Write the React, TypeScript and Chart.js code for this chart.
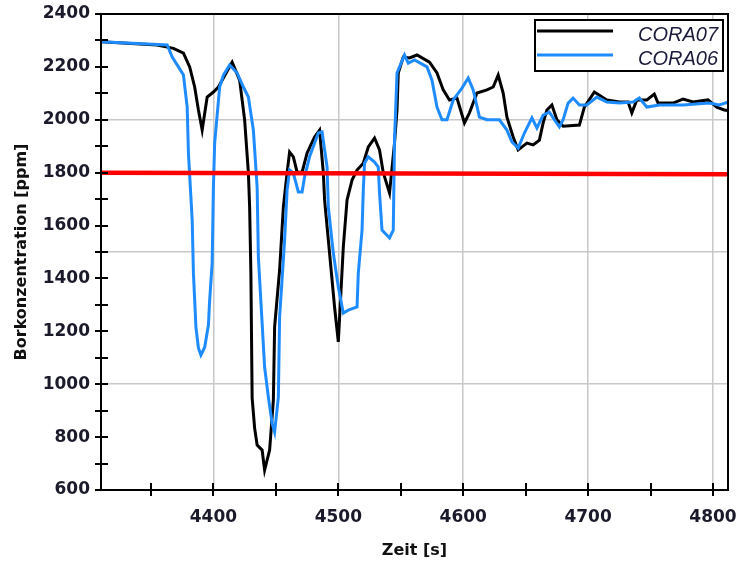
import React, { useEffect, useRef } from 'react';
import { Chart, registerables } from 'chart.js';

Chart.register(...registerables);

const cora07Time = [4310, 4355, 4368, 4376, 4381, 4385, 4388, 4391, 4395, 4400, 4404, 4415, 4421, 4425, 4428, 4429, 4430, 4431, 4433, 4435, 4439, 4441, 4445, 4448, 4449, 4453, 4456, 4459, 4461, 4464, 4467, 4471, 4475, 4481, 4485, 4488, 4489, 4493, 4497, 4500, 4504, 4507, 4511, 4515, 4520, 4524, 4529, 4533, 4536, 4541, 4545, 4547, 4548, 4552, 4557, 4563, 4573, 4579, 4584, 4589, 4595, 4601, 4605, 4611, 4619, 4624, 4628, 4632, 4635, 4640, 4644, 4651, 4656, 4661, 4664, 4667, 4671, 4675, 4680, 4693, 4697, 4705, 4715, 4725, 4732, 4735, 4739, 4747, 4753, 4756, 4768, 4776, 4784, 4796, 4803, 4809, 4812];
const cora07Boron = [2295, 2283, 2270, 2252, 2200, 2124, 2037, 1961, 2086, 2105, 2124, 2218, 2150, 2000, 1800, 1670, 1420, 948, 834, 770, 751, 675, 751, 940, 1216, 1432, 1670, 1800, 1878, 1860, 1802, 1802, 1874, 1935, 1961, 1800, 1697, 1496, 1292, 1160, 1519, 1697, 1772, 1810, 1836, 1897, 1931, 1886, 1800, 1723, 1912, 2037, 2177, 2237, 2234, 2245, 2218, 2177, 2113, 2075, 2082, 1988, 2026, 2101, 2113, 2124, 2169, 2101, 2010, 1935, 1886, 1912, 1905, 1923, 1988, 2037, 2056, 2000, 1976, 1980, 2048, 2105, 2075, 2067, 2067, 2026, 2075, 2075, 2097, 2063, 2063, 2078, 2067, 2075, 2048, 2037, 2035];

const cora06Time = [4310, 4363, 4367, 4372, 4376, 4379, 4380, 4383, 4384, 4386, 4388, 4390, 4393, 4396, 4397, 4399, 4400, 4401, 4405, 4408, 4413, 4419, 4424, 4428, 4432, 4435, 4436, 4439, 4441, 4444, 4447, 4449, 4452, 4453, 4456, 4457, 4459, 4461, 4464, 4468, 4471, 4473, 4477, 4484, 4487, 4491, 4492, 4496, 4500, 4504, 4508, 4515, 4516, 4519, 4520, 4521, 4524, 4529, 4532, 4533, 4535, 4541, 4544, 4545, 4547, 4549, 4553, 4556, 4561, 4571, 4575, 4579, 4583, 4587, 4592, 4599, 4604, 4608, 4613, 4619, 4629, 4635, 4639, 4644, 4649, 4655, 4659, 4664, 4669, 4673, 4677, 4680, 4684, 4688, 4693, 4699, 4707, 4715, 4725, 4736, 4741, 4747, 4757, 4776, 4797, 4805, 4812];
const cora06Boron = [2295, 2283, 2237, 2200, 2169, 2048, 1874, 1621, 1420, 1216, 1137, 1110, 1140, 1224, 1318, 1458, 1746, 1912, 2124, 2169, 2207, 2177, 2124, 2086, 1961, 1746, 1480, 1231, 1065, 951, 853, 819, 951, 1254, 1470, 1545, 1734, 1810, 1798, 1727, 1727, 1784, 1860, 1950, 1954, 1821, 1670, 1496, 1368, 1269, 1280, 1292, 1420, 1583, 1734, 1836, 1860, 1840, 1821, 1723, 1583, 1553, 1583, 1923, 2177, 2200, 2245, 2214, 2226, 2200, 2150, 2048, 2000, 2000, 2075, 2120, 2158, 2113, 2010, 2000, 2000, 1961, 1916, 1893, 1950, 2007, 1969, 2018, 2029, 2000, 1973, 2000, 2063, 2082, 2056, 2056, 2086, 2067, 2063, 2067, 2082, 2048, 2056, 2056, 2063, 2056, 2067];

const limitTime = [4310, 4812];
const limitBoron = [1800, 1794];

const seriesNames = ['CORA07', 'CORA06'];
const seriesColors = ['#000000', '#1e8cff'];

const xTickValues = [4350, 4400, 4450, 4500, 4550, 4600, 4650, 4700, 4750, 4800];
const xLabelValues = [4400, 4500, 4600, 4700, 4800];
const yTickValues = [600, 700, 800, 900, 1000, 1100, 1200, 1300, 1400, 1500, 1600, 1700, 1800, 1900, 2000, 2100, 2200, 2300, 2400];
const yLabelValues = [600, 800, 1000, 1200, 1400, 1600, 1800, 2000, 2200, 2400];
const yGridValues = [1000, 1500, 2000];

const xMin = 4310;
const xMax = 4812;
const yMin = 600;
const yMax = 2400;

const toPoints = (xs: number[], ys: number[]) => xs.map((x, i) => ({ x, y: ys[i] }));

const framePlugin = {
  id: 'frame',
  afterDatasetsDraw(chart: any) {
    const { ctx, chartArea, scales } = chart;
    const { left, right, top, bottom } = chartArea;
    ctx.save();
    ctx.strokeStyle = '#000';
    ctx.lineWidth = 2;
    ctx.beginPath();
    scales.y.ticks.forEach((t: any) => {
      const py = Math.round(scales.y.getPixelForValue(t.value));
      ctx.moveTo(left - 6, py);
      ctx.lineTo(left + 7, py);
    });
    scales.x.ticks.forEach((t: any) => {
      const px = Math.round(scales.x.getPixelForValue(t.value));
      ctx.moveTo(px, bottom - 7);
      ctx.lineTo(px, bottom + 6);
    });
    ctx.stroke();
    ctx.strokeRect(left, top, right - left, bottom - top);
    ctx.restore();
  },
  afterDraw(chart: any) {
    const { ctx, chartArea } = chart;
    const { right, top } = chartArea;
    const bx = right - 193;
    const by = top + 6;
    const bw = 188;
    const bh = 51;
    ctx.save();
    ctx.fillStyle = '#fff';
    ctx.fillRect(bx, by, bw, bh);
    ctx.strokeStyle = '#000';
    ctx.lineWidth = 2;
    ctx.strokeRect(bx, by, bw, bh);
    ctx.font = 'italic 20px "Liberation Sans", Arial, sans-serif';
    ctx.textAlign = 'right';
    ctx.textBaseline = 'alphabetic';
    seriesNames.forEach((name, i) => {
      const ly = by + 11 + i * 24;
      ctx.strokeStyle = seriesColors[i];
      ctx.lineWidth = 3;
      ctx.beginPath();
      ctx.moveTo(bx + 2, ly);
      ctx.lineTo(bx + 78, ly);
      ctx.stroke();
      ctx.fillStyle = '#1a1a3a';
      ctx.fillText(name, bx + bw - 5, ly + 10);
    });
    ctx.restore();
  },
};

export default function App() {
  const canvasRef = useRef<HTMLCanvasElement | null>(null);

  useEffect(() => {
    document.body.style.margin = '0';
    const canvas = canvasRef.current;
    if (!canvas) return;
    const tickFont = { family: '"DejaVu Sans", Verdana, sans-serif', size: 17, weight: 'bold' as const };
    const titleFont = { family: '"DejaVu Sans", Verdana, sans-serif', size: 16, weight: 'bold' as const };
    const chart = new Chart(canvas, {
      type: 'line',
      data: {
        datasets: [
          {
            label: 'Limit',
            data: toPoints(limitTime, limitBoron),
            borderColor: '#ff0000',
            borderWidth: 4.5,
            pointRadius: 0,
            tension: 0,
          },
          {
            label: seriesNames[1],
            data: toPoints(cora06Time, cora06Boron),
            borderColor: seriesColors[1],
            borderWidth: 3,
            pointRadius: 0,
            tension: 0,
          },
          {
            label: seriesNames[0],
            data: toPoints(cora07Time, cora07Boron),
            borderColor: seriesColors[0],
            borderWidth: 3,
            pointRadius: 0,
            tension: 0,
          },
        ],
      },
      options: {
        responsive: false,
        animation: false,
        layout: { padding: { top: 14, right: 9, left: 0, bottom: 0 } },
        plugins: {
          legend: { display: false },
          tooltip: { enabled: false },
          title: { display: false },
        },
        scales: {
          x: {
            type: 'linear',
            min: xMin,
            max: xMax,
            afterBuildTicks: (s: any) => { s.ticks = xTickValues.map((v) => ({ value: v })); },
            afterFit: (s: any) => { s.height = 72; s.paddingLeft = 0; s.paddingRight = 0; },
            border: { display: false },
            grid: {
              drawTicks: false,
              lineWidth: 1.5,
              color: (c: any) => (c.tick && xLabelValues.includes(c.tick.value) ? '#c8c8c8' : 'rgba(0,0,0,0)'),
            },
            ticks: {
              autoSkip: false,
              maxRotation: 0,
              padding: 17,
              color: '#1a1a2a',
              font: tickFont,
              callback: (v: any) => (xLabelValues.includes(Number(v)) ? String(v) : ''),
            },
            title: {
              display: true,
              text: 'Zeit [s]',
              color: '#111',
              font: titleFont,
              padding: { top: 0, bottom: 2 },
            },
          },
          y: {
            type: 'linear',
            min: yMin,
            max: yMax,
            afterBuildTicks: (s: any) => { s.ticks = yTickValues.map((v) => ({ value: v })); },
            afterFit: (s: any) => { s.width = 101; s.paddingTop = 0; s.paddingBottom = 0; },
            border: { display: false },
            grid: {
              drawTicks: false,
              lineWidth: 1.5,
              color: (c: any) => (c.tick && yGridValues.includes(c.tick.value) ? '#c8c8c8' : 'rgba(0,0,0,0)'),
            },
            ticks: {
              autoSkip: false,
              padding: 11,
              color: '#1a1a2a',
              font: tickFont,
              callback: (v: any) => (yLabelValues.includes(Number(v)) ? String(v) : ''),
            },
            title: {
              display: true,
              text: 'Borkonzentration [ppm]',
              color: '#111',
              font: titleFont,
              padding: { top: 12, bottom: 0 },
            },
          },
        },
      },
      plugins: [framePlugin],
    });
    return () => chart.destroy();
  }, []);

  return <canvas ref={canvasRef} width={737} height={562} style={{ display: 'block' }} />;
}
